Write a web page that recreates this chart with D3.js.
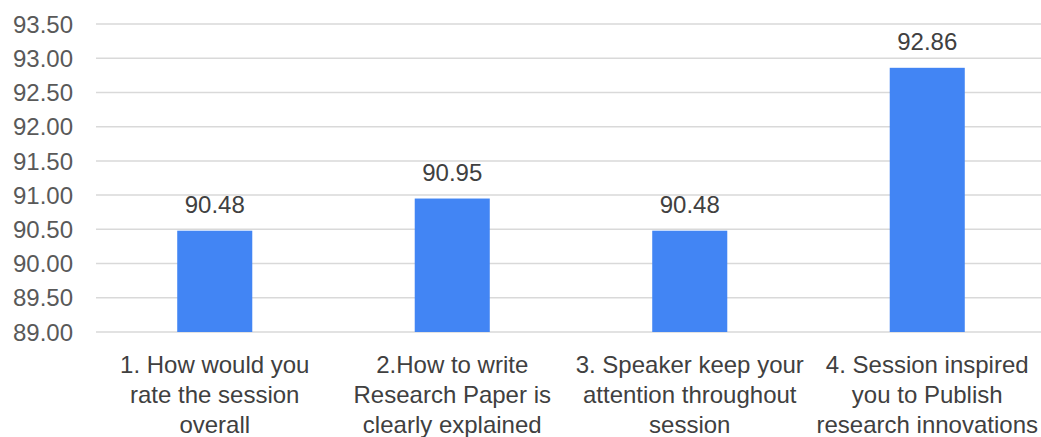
<!DOCTYPE html>
<html><head><meta charset="utf-8">
<script src="https://cdn.jsdelivr.net/npm/d3@7"></script>
<style>body{margin:0;background:#fff}svg{display:block}</style>
</head><body>
<svg id="c" width="1041" height="437"></svg>
<script>
const categories = [
  ["1. How would you","rate the session","overall"],
  ["2.How to write","Research Paper is","clearly explained"],
  ["3. Speaker keep your","attention throughout","session"],
  ["4. Session inspired","you to Publish","research innovations"]
];
const values = [90.48, 90.95, 90.48, 92.86];
const valueLabels = ["90.48","90.95","90.48","92.86"];
const yTicks = [89.0, 89.5, 90.0, 90.5, 91.0, 91.5, 92.0, 92.5, 93.0, 93.5];

(function(){
const svg = d3.select("#c");
const mLeft = 96, mRight = 1046, mTop = 24, mBottom = 332;
const font = "'Liberation Sans', Arial, sans-serif";

const x = d3.scaleBand().domain(d3.range(values.length)).range([mLeft, mRight]).paddingInner(0.684).paddingOuter(0.342);
const y = d3.scaleLinear().domain([89, 93.5]).range([mBottom, mTop]);

svg.append("g").selectAll("line").data(yTicks).join("line")
  .attr("x1", mLeft).attr("x2", 1041)
  .attr("y1", d => y(d)).attr("y2", d => y(d))
  .attr("stroke", "#d9d9d9").attr("stroke-width", 1.5);

svg.append("g").selectAll("text").data(yTicks).join("text")
  .attr("x", 73).attr("y", d => y(d)).attr("dy", "0.36em")
  .attr("text-anchor", "end").attr("font-family", font).attr("font-size", 24)
  .attr("fill", "#595959").text(d => d.toFixed(2));

svg.append("g").selectAll("rect").data(values).join("rect")
  .attr("x", (d, i) => x(i)).attr("width", x.bandwidth())
  .attr("y", d => y(d)).attr("height", d => y(89) - y(d))
  .attr("fill", "#4285f4");

svg.append("g").selectAll("text").data(values).join("text")
  .attr("x", (d, i) => x(i) + x.bandwidth() / 2).attr("y", d => y(d) - 18)
  .attr("text-anchor", "middle").attr("font-family", font).attr("font-size", 24)
  .attr("fill", "#404040").text((d, i) => valueLabels[i]);

const cg = svg.append("g").selectAll("text").data(categories).join("text")
  .attr("text-anchor", "middle").attr("font-family", font).attr("font-size", 24)
  .attr("fill", "#404040");
cg.selectAll("tspan").data((d, i) => d.map(t => ({t, i}))).join("tspan")
  .attr("x", d => x(d.i) + x.bandwidth() / 2)
  .attr("y", (d, j) => 373 + j * 30)
  .text(d => d.t);
})();
</script>
</body></html>
